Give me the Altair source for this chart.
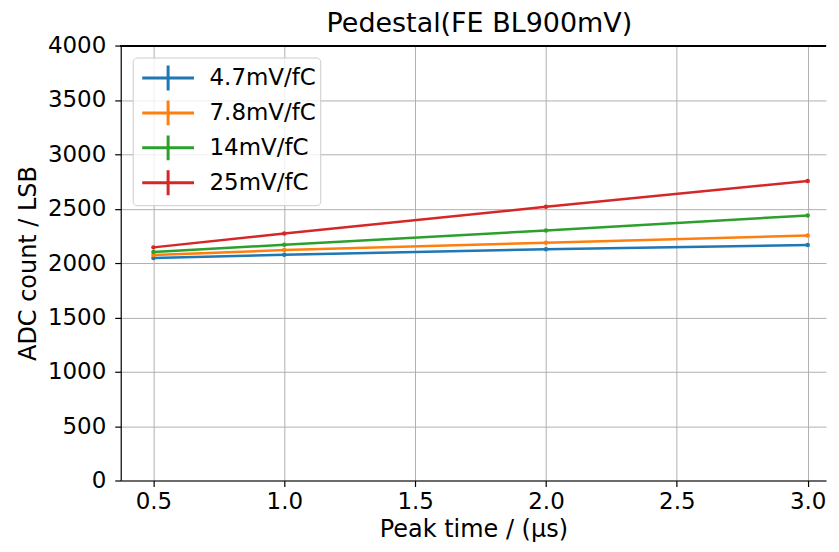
import altair as alt
import pandas as pd

# ---- data ----
peak_time = [0.5, 1.0, 2.0, 3.0]
series_names = ["4.7mV/fC", "7.8mV/fC", "14mV/fC", "25mV/fC"]
gain_4_7 = [2046, 2076, 2126, 2165]
gain_7_8 = [2073, 2119, 2186, 2254]
gain_14 = [2101, 2168, 2300, 2438]
gain_25 = [2144, 2272, 2517, 2755]
colors = ["#1f77b4", "#ff7f0e", "#2ca02c", "#d62728"]
x_ticks = [0.5, 1.0, 1.5, 2.0, 2.5, 3.0]
y_ticks = [0, 500, 1000, 1500, 2000, 2500, 3000, 3500, 4000]

rows = []
for name, vals in zip(series_names, [gain_4_7, gain_7_8, gain_14, gain_25]):
    for t, v in zip(peak_time, vals):
        rows.append({"t": t, "adc": v, "series": name})
df = pd.DataFrame(rows)

W, H = 707, 436
FONT = "DejaVu Sans"

x_enc = alt.X("t:Q", scale=alt.Scale(domain=[0.375, 3.07], nice=False, zero=False),
              axis=alt.Axis(values=x_ticks, format=".1f", title="Peak time / (μs)",
                            titlePadding=4))
y_enc = alt.Y("adc:Q", scale=alt.Scale(domain=[0, 4000], nice=False),
              axis=alt.Axis(values=y_ticks, format="d", title="ADC count / LSB",
                            titlePadding=7))
color_enc = alt.Color("series:N", sort=series_names,
                      scale=alt.Scale(domain=series_names, range=colors),
                      legend=alt.Legend(orient="none", legendX=12, legendY=12, title=None,
                                        symbolType="M-1.73,0H1.73M0,-0.83V0.83",
                                        symbolSize=900, symbolStrokeWidth=3,
                                        symbolOffset=15,
                                        labelFontSize=23, labelFont=FONT, labelColor="black",
                                        labelOffset=25,
                                        fillColor="rgba(255,255,255,0.8)",
                                        strokeColor="#cccccc", cornerRadius=4,
                                        padding=4, rowPadding=-2))

lines = alt.Chart(df).mark_line(strokeWidth=2.5).encode(x=x_enc, y=y_enc, color=color_enc)
points = alt.Chart(df).mark_point(filled=True, size=20, opacity=1).encode(
    x="t:Q", y="adc:Q", color=alt.Color("series:N", sort=series_names, legend=None))
top_border = alt.Chart(df).mark_rule(color="black", strokeWidth=1.2).encode(
    x=alt.value(0), x2=alt.value(W), y=alt.value(0))

chart = alt.layer(lines, points, top_border).properties(
    width=W, height=H,
    title=alt.TitleParams("Pedestal(FE BL900mV)", fontSize=27, font=FONT, fontWeight="normal",
                          color="black", offset=14, dx=6, dy=17),
    autosize=alt.AutoSizeParams(type="none"),
    padding={"left": 113, "top": 37, "right": 5, "bottom": 62},
).configure_view(stroke=None).configure_axis(
    labelFont=FONT, titleFont=FONT, labelFontSize=23, titleFontSize=24,
    labelColor="black", titleColor="black", titleFontWeight="normal",
    domainColor="black", domainWidth=1.2, tickColor="black", tickSize=6, tickWidth=1.2,
    gridColor="#b0b0b0", gridWidth=1, labelPadding=4,
).configure_axisY(labelPadding=9)

chart.save("out.html", embed_options={"renderer": "svg", "actions": False})
